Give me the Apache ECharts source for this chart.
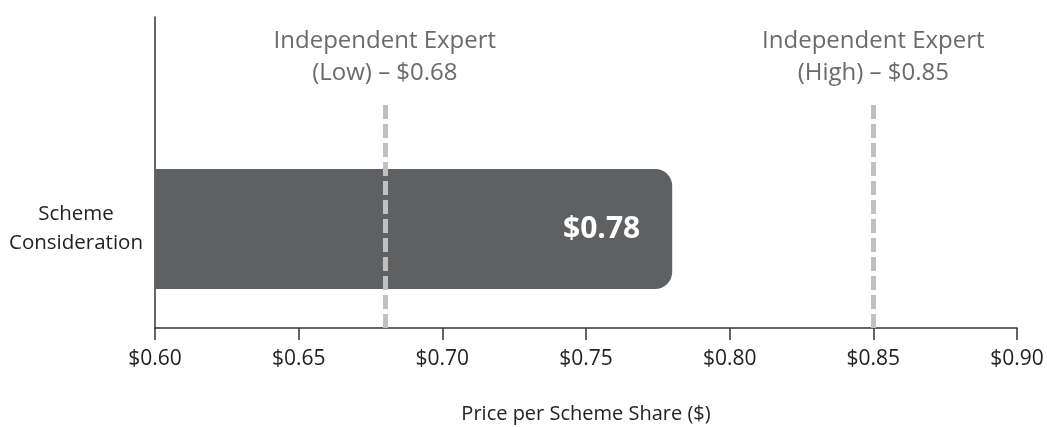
<!DOCTYPE html>
<html><head><meta charset="utf-8">
<script src="https://cdn.jsdelivr.net/npm/echarts@6/dist/echarts.min.js"></script>
<style>html,body{margin:0;padding:0;background:#fff}#c{width:1047px;height:427px}</style>
</head><body><div id="c"></div>
<script>
const categories = ['Scheme\nConsideration'];
const values = [0.78];
const refValues = [0.68, 0.85];
const refLabels = ['Independent Expert\n(Low) – $0.68', 'Independent Expert\n(High) – $0.85'];
const axisMin = 0.60, axisMax = 0.90, axisStep = 0.05;

const FONT = 'Open Sans';
const chart = echarts.init(document.getElementById('c'), null, {renderer: 'canvas'});
const fmt = v => '$' + v.toFixed(2);
const hiddenX = i => ({gridIndex: i, type: 'value', min: axisMin, max: axisMax, show: false});

chart.setOption({
  animation: false,
  textStyle: {fontFamily: FONT},
  grid: [
    {left: 155, right: 30, top: 130, bottom: 99},
    {left: 155, right: 30, top: 17, bottom: 99},
    {left: 155, right: 30, top: 103, bottom: 99}
  ],
  xAxis: [
    {gridIndex: 0, type: 'value', min: axisMin, max: axisMax, interval: axisStep,
      axisLine: {show: true, lineStyle: {color: '#333', width: 1.5}},
      axisTick: {show: true, length: 12, lineStyle: {color: '#333', width: 1.5}},
      axisLabel: {formatter: fmt, color: '#222', fontSize: 21, margin: 21, fontFamily: FONT},
      splitLine: {show: false},
      name: 'Price per Scheme Share ($)', nameLocation: 'middle', nameGap: 76,
      nameTextStyle: {color: '#222', fontSize: 20, fontFamily: FONT}
    },
    hiddenX(1), hiddenX(2)
  ],
  yAxis: [
    {gridIndex: 0, type: 'category', data: categories,
      axisLine: {show: false}, axisTick: {show: false},
      axisLabel: {color: '#222', fontSize: 20.5, lineHeight: 29, margin: 79, align: 'center', fontFamily: FONT}
    },
    {gridIndex: 1, type: 'value', min: 0, max: 1,
      axisLine: {show: true, lineStyle: {color: '#333', width: 1.5}},
      axisTick: {show: false}, axisLabel: {show: false}, splitLine: {show: false}},
    {gridIndex: 2, type: 'value', min: 0, max: 1, show: false}
  ],
  series: [
    {type: 'bar', xAxisIndex: 0, yAxisIndex: 0, data: values, barWidth: 120,
      itemStyle: {color: '#5f6062', borderRadius: [0, 17, 17, 0]},
      label: {show: true, position: 'insideRight', distance: 32, formatter: p => fmt(p.value),
        color: '#fff', fontSize: 30, fontWeight: 'bold', fontFamily: FONT},
      z: 2
    },
    {type: 'line', xAxisIndex: 2, yAxisIndex: 2, data: [], z: 3,
      markLine: {symbol: 'none', silent: true,
        lineStyle: {color: '#c0c0c0', width: 5, type: [14, 5]},
        label: {show: true, position: 'end', distance: 14, color: '#6b6b6c', fontSize: 24,
          lineHeight: 32, fontFamily: FONT, align: 'center'},
        data: refValues.map((v, i) => ({xAxis: v, label: {formatter: refLabels[i]}}))
      }
    }
  ]
});
</script></body></html>
